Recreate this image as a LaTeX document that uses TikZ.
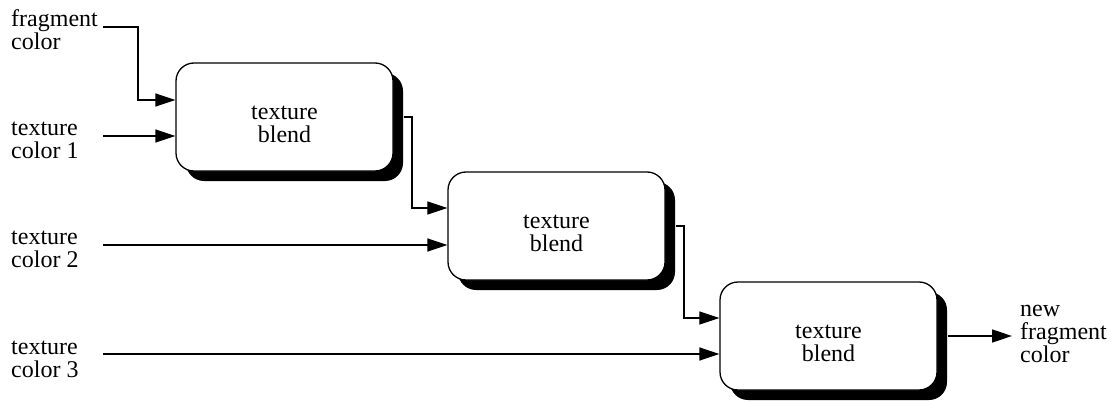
\documentclass[tikz,border=0pt]{standalone}
\usepackage{fontspec}
\setmainfont{Liberation Serif}
\usetikzlibrary{arrows.meta,shadows}
\begin{document}
\begin{tikzpicture}[x=1pt,y=-1pt,
  every node/.style={font=\fontsize{24}{23}\selectfont, inner sep=0pt},
  blendbox/.style={draw=black, line width=1.3pt, fill=white,
    rounded corners=18pt, minimum width=217pt, minimum height=108pt,
    label={[align=center, yshift=-7pt]center:texture\\blend},
    drop shadow={shadow xshift=10pt, shadow yshift=-10pt, fill=black, opacity=1}},
  lbl/.style={align=left, anchor=base west},
  feed/.style={line width=1.6pt, -{Triangle[length=20pt,width=13pt]}},
  link/.style={line width=1.1pt, -{Triangle[length=20pt,width=13pt]}}]
\useasboundingbox (0,0) rectangle (1111,401);

% the three blend stages
\node[blendbox] (b1) at (284.5,117) {};
\node[blendbox] (b2) at (556.5,226) {};
\node[blendbox] (b3) at (828.5,336) {};

% input labels (anchored on the baseline of their last line)
\node[lbl] (fc) at (11,50)  {fragment\\color};
\node[lbl] (t1) at (11,158) {texture\\color 1};
\node[lbl] (t2) at (11,267) {texture\\color 2};
\node[lbl] (t3) at (11,377) {texture\\color 3};
\node[lbl] (out) at (1020,362) {new\\fragment\\color};

% wire start points
\coordinate (fcs) at (103,27);
\coordinate (t1s) at (103,136);
\coordinate (t2s) at (103,245);
\coordinate (t3s) at (103,354);
\coordinate (oute) at (1012,336);

% inputs
\draw[feed] (fcs) -- (138,27) |- ([yshift=17pt]b1.west);
\draw[feed] (t1s) -- (t1s -| b1.west);
\draw[feed] (t2s) -- (t2s -| b2.west);
\draw[feed] (t3s) -- (t3s -| b3.west);

% stage to stage
\draw[link] ([xshift=10pt]b1.east) -- (412,117) |- ([yshift=18pt]b2.west);
\draw[link] ([xshift=10pt]b2.east) -- (684,226) |- ([yshift=18pt]b3.west);

% result
\draw[feed] ([xshift=10pt]b3.east) -- (oute);
\end{tikzpicture}
\end{document}
